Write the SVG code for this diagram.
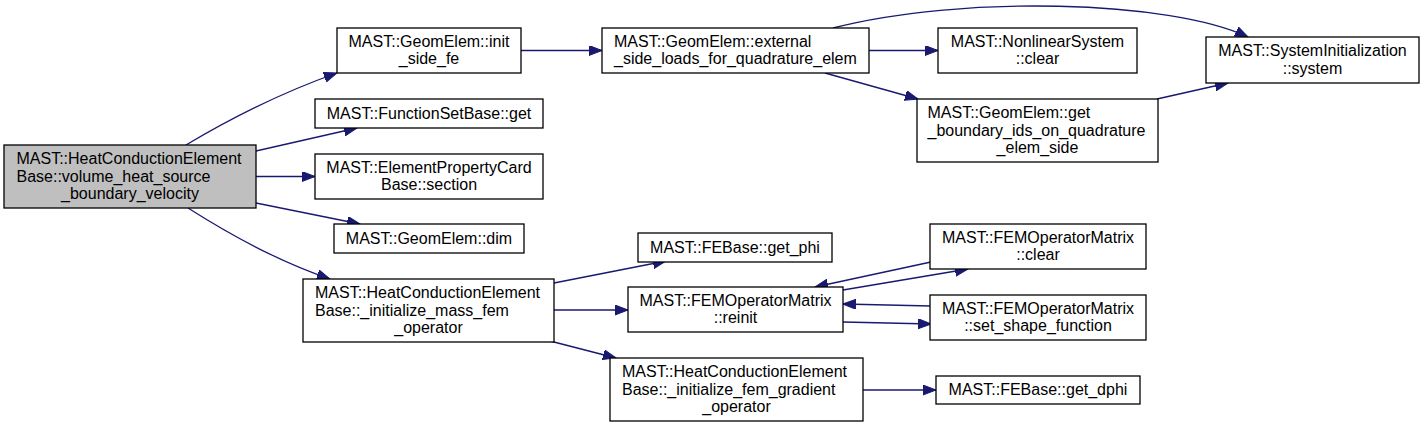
<svg xmlns="http://www.w3.org/2000/svg" width="1425" height="427" viewBox="0 0 1425 427">
<style>
.node rect{fill:#ffffff;stroke:#000000;stroke-width:1.3}
#n_main rect{fill:#bfbfbf}
text{font-family:"Liberation Sans",Arial,Helvetica,sans-serif;font-size:16px;fill:#000000}
.m{text-anchor:middle}
.s{text-anchor:start}
.edge{fill:none;stroke:#191970;stroke-width:1.3;marker-end:url(#arr)}
</style>
<defs>
<marker id="arr" markerUnits="userSpaceOnUse" markerWidth="14" markerHeight="11" refX="13" refY="5" orient="auto">
<path d="M0,0 L13,5 L0,10 z" fill="#191970" stroke="#191970" stroke-width="1"/>
</marker>
</defs>
<rect width="1425" height="427" fill="#ffffff"/>
<g id="edges">
<path class="edge" d="M186,145 C228,120 280,93 337,73"/>
<path class="edge" d="M256,151 L357,128"/>
<path class="edge" d="M256,176.5 L315,176.5"/>
<path class="edge" d="M256,203 L360,224"/>
<path class="edge" d="M188,208 C232,236 280,262 330,279"/>
<path class="edge" d="M521,50.5 L602,50.5"/>
<path class="edge" d="M833,28 C960,-5 1170,0 1248,37"/>
<path class="edge" d="M869,50.5 L938,50.5"/>
<path class="edge" d="M825,73 L918,99"/>
<path class="edge" d="M1157,99 L1228,83"/>
<path class="edge" d="M554,283 L666,261"/>
<path class="edge" d="M554,310 L628,310"/>
<path class="edge" d="M550,341 L616,358"/>
<path class="edge" d="M843,290 L968,269"/>
<path class="edge" d="M931,262 L815,287"/>
<path class="edge" d="M931,306 L843,304"/>
<path class="edge" d="M843,322 L931,324"/>
<path class="edge" d="M863,390 L936,390"/>
</g>
<g id="n_main" class="node">
<rect x="4" y="145" width="252" height="63"/>
<text class="s" x="16.5" y="164">MAST::HeatConductionElement</text>
<text class="s" x="16.5" y="181.5">Base::volume_heat_source</text>
<text class="m" x="130" y="199">_boundary_velocity</text>
</g>
<g id="n_init_side_fe" class="node">
<rect x="337" y="28" width="184" height="45"/>
<text class="m" x="429" y="46.75">MAST::GeomElem::init</text>
<text class="m" x="429" y="64.25">_side_fe</text>
</g>
<g id="n_fsb_get" class="node">
<rect x="315" y="99" width="228" height="29"/>
<text class="m" x="429" y="118.5">MAST::FunctionSetBase::get</text>
</g>
<g id="n_epc_section" class="node">
<rect x="315" y="154" width="228" height="45"/>
<text class="m" x="429" y="172.75">MAST::ElementPropertyCard</text>
<text class="m" x="429" y="190.25">Base::section</text>
</g>
<g id="n_dim" class="node">
<rect x="334" y="224" width="190" height="29"/>
<text class="m" x="429" y="243.5">MAST::GeomElem::dim</text>
</g>
<g id="n_mass_fem" class="node">
<rect x="303" y="279" width="251" height="63"/>
<text class="s" x="315" y="298">MAST::HeatConductionElement</text>
<text class="s" x="315" y="315.5">Base::_initialize_mass_fem</text>
<text class="m" x="428.5" y="333">_operator</text>
</g>
<g id="n_external" class="node">
<rect x="602" y="28" width="267" height="45"/>
<text class="s" x="614" y="46.75">MAST::GeomElem::external</text>
<text class="s" x="614" y="64.25">_side_loads_for_quadrature_elem</text>
</g>
<g id="n_nl_clear" class="node">
<rect x="938" y="28" width="199" height="45"/>
<text class="m" x="1037.5" y="46.75">MAST::NonlinearSystem</text>
<text class="m" x="1037.5" y="64.25">::clear</text>
</g>
<g id="n_sysinit" class="node">
<rect x="1206" y="37" width="213" height="46"/>
<text class="m" x="1312.5" y="56.25">MAST::SystemInitialization</text>
<text class="m" x="1312.5" y="73.75">::system</text>
</g>
<g id="n_boundary_ids" class="node">
<rect x="917" y="99" width="241" height="63"/>
<text class="s" x="927.5" y="118">MAST::GeomElem::get</text>
<text class="s" x="927.5" y="135.5">_boundary_ids_on_quadrature</text>
<text class="m" x="1037.5" y="153">_elem_side</text>
</g>
<g id="n_fem_clear" class="node">
<rect x="930" y="224" width="216" height="45"/>
<text class="m" x="1038" y="242.75">MAST::FEMOperatorMatrix</text>
<text class="m" x="1038" y="260.25">::clear</text>
</g>
<g id="n_get_phi" class="node">
<rect x="638" y="233" width="194" height="29"/>
<text class="m" x="735" y="252.5">MAST::FEBase::get_phi</text>
</g>
<g id="n_reinit" class="node">
<rect x="628" y="287" width="215" height="45"/>
<text class="m" x="735.5" y="305.75">MAST::FEMOperatorMatrix</text>
<text class="m" x="735.5" y="323.25">::reinit</text>
</g>
<g id="n_set_shape" class="node">
<rect x="930" y="295" width="216" height="45"/>
<text class="m" x="1038" y="313.75">MAST::FEMOperatorMatrix</text>
<text class="m" x="1038" y="331.25">::set_shape_function</text>
</g>
<g id="n_gradient" class="node">
<rect x="610" y="358" width="253" height="63"/>
<text class="s" x="622" y="377">MAST::HeatConductionElement</text>
<text class="s" x="622" y="394.5">Base::_initialize_fem_gradient</text>
<text class="m" x="736.5" y="412">_operator</text>
</g>
<g id="n_get_dphi" class="node">
<rect x="936" y="376" width="204" height="28"/>
<text class="m" x="1038" y="395">MAST::FEBase::get_dphi</text>
</g>
</svg>
